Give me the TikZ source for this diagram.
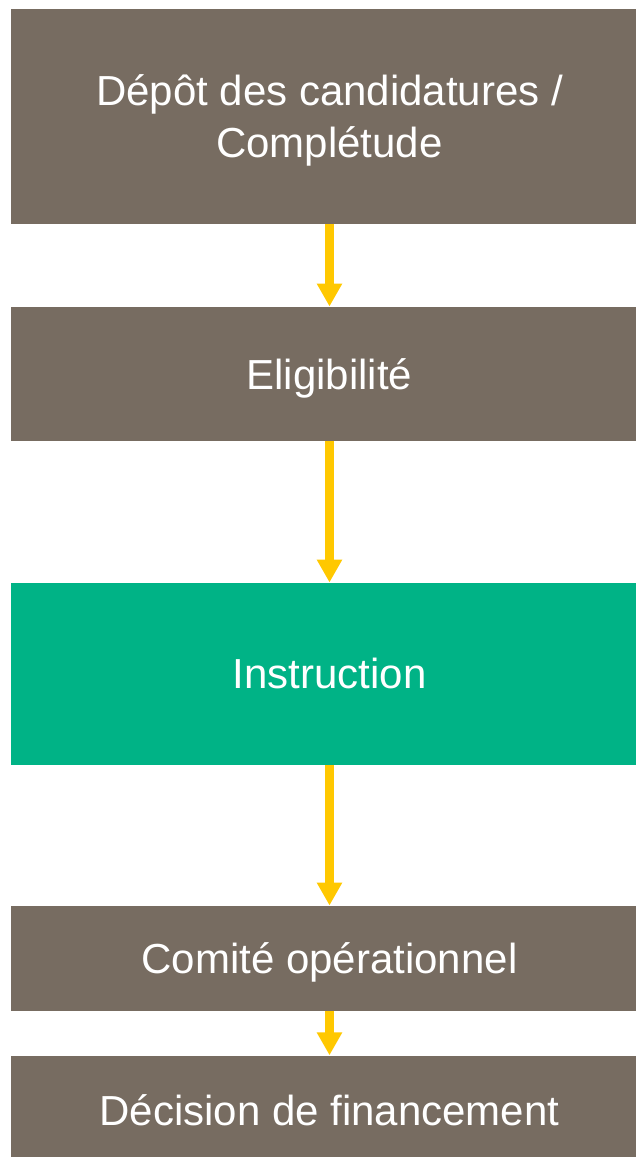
\documentclass[tikz,border=0pt]{standalone}
\usepackage{fontspec}
\setmainfont{Liberation Sans}
\usetikzlibrary{arrows.meta}
\definecolor{stepgray}{HTML}{776C61}
\definecolor{stepgreen}{HTML}{00B386}
\definecolor{flowyellow}{HTML}{FFC800}
\begin{document}
\begin{tikzpicture} [
                x=1pt, y=-1pt,
                stage/.style={rectangle,fill=stepgray,text=white,minimum width=637pt,inner sep=0pt,
                    text depth=0pt,align=center,font=\fontsize{42}{52}\selectfont},
                current/.style={stage,fill=stepgreen},
                flow/.style = {draw=flowyellow,line width=8.4pt,-{Triangle[width=24pt,length=23pt]}},
            ]
            \useasboundingbox (0,0) rectangle (636,1157);
            \clip (0,0) rectangle (636,1157);
            % First we draw the stages
            \foreach \pos/\height/\name/\kind/\label in {
                    {(329.5,116.3)/214.7/depot/stage/{Dépôt des candidatures /\\Complétude}},
                    {(329.5,373.7)/134/elig/stage/Eligibilité},
                    {(329.5,673.7)/182/instr/current/Instruction},
                    {(329.5,958.2)/105/comite/stage/Comité opérationnel},
                    {(329.5,1110.5)/110/decision/stage/Décision de financement}}
                \node[\kind,minimum height=\height pt] (\name) at \pos {\label};
            % Connect stages with arrows
            \foreach \source/ \dest in {
                    depot/elig,
                    elig/instr,
                    instr/comite,
                    comite/decision}
                \path[flow] (\source) -- (\dest);
        \end{tikzpicture}
\end{document}
